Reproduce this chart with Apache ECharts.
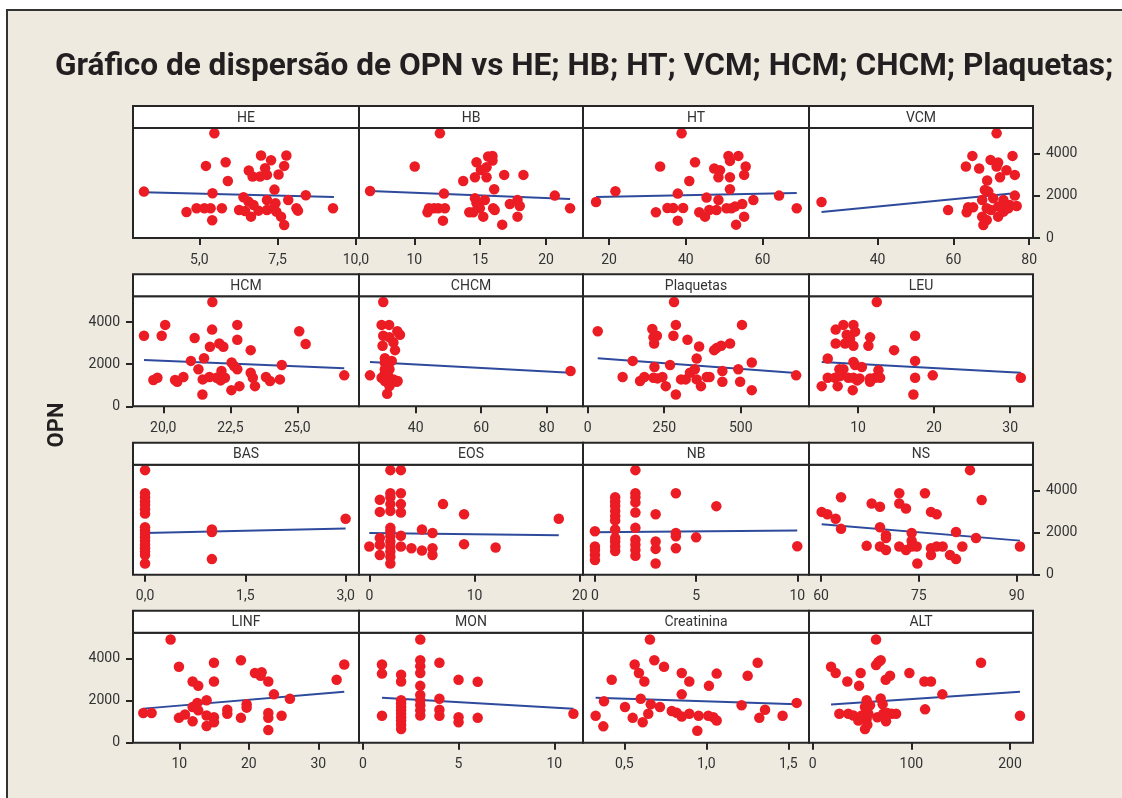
<!DOCTYPE html>
<html><head><meta charset="utf-8">
<script src="https://cdn.jsdelivr.net/npm/echarts@6/dist/echarts.min.js"></script>
<style>html,body{margin:0;padding:0;background:#fff;overflow:hidden}#c{width:1122px;height:798px}</style>
</head><body><div id="c"></div><script>
// ---------- DATA (x, OPN) per panel ----------
const HE = [[5.48,4983],[3.23,2206],[5.42,2127],[5.21,3428],[5.84,3603],[5.91,2714],[6.97,3920],[7.29,3698],[7.78,3920],[7.71,3428],[6.58,3206],[6.70,2920],[6.94,2920],[7.10,3317],[7.16,3000],[7.53,3015],[7.40,2301],[8.40,2031],[7.84,1809],[6.41,1936],[6.57,1730],[6.73,1571],[7.16,1809],[7.43,1650],[4.59,1238],[4.91,1412],[5.16,1412],[5.36,1412],[5.72,1412],[5.41,841],[6.27,1333],[6.46,1286],[6.65,1016],[6.89,1301],[7.16,1333],[7.37,1412],[7.46,1254],[7.61,1016],[7.71,619],[8.10,1412],[8.15,1301],[9.27,1412]];
const HB = [[6.64,2238],[11.94,4983],[10.03,3396],[14.72,3603],[15.6,3872],[15.93,3904],[15.93,3682],[15.48,3364],[15.05,3237],[13.71,2714],[14.6,2888],[15.48,2888],[16.82,3000],[18.28,3000],[16.06,2317],[12.25,2111],[20.66,2016],[21.82,1412],[11.0,1222],[11.11,1412],[11.5,1412],[11.82,1412],[12.32,1412],[12.17,825],[14.6,1889],[14.72,1650],[15.35,1809],[14.97,1412],[14.17,1222],[14.47,1222],[15.23,1016],[15.98,1412],[16.1,1333],[17.25,1619],[17.83,1809],[18.0,1524],[17.83,1016],[16.67,635]];
const HT = [[16.6,1714],[21.65,2222],[33.3,3396],[38.9,4983],[42.4,3603],[40.9,2714],[37.9,2111],[32.2,1222],[35.2,1428],[36.7,1428],[39.3,1428],[37.9,825],[47.4,3301],[48.9,3222],[48.5,2888],[51.1,3904],[51.5,3666],[53.7,3904],[51.5,2888],[51.5,2317],[55.6,3396],[55.2,3000],[45.4,1920],[48.5,1809],[43.5,1222],[45.0,1016],[46.1,1333],[48.0,1333],[50.6,1412],[51.9,1412],[52.8,1492],[54.7,1619],[57.6,1809],[55.2,1016],[53.1,635],[64.3,2016],[68.9,1412]];
const VCM = [[25.2,1714],[58.6,1333],[63.5,1222],[63.9,1460],[65.2,1460],[63.3,3396],[65.0,3904],[66.8,3301],[69.8,3714],[71.8,3587],[71.4,3396],[72.3,2888],[74.0,3222],[75.6,3904],[76.2,3000],[71.4,4983],[68.9,2730],[68.3,2285],[69.2,2206],[76.2,2016],[67.6,1809],[70.5,1889],[73.2,1809],[68.8,1412],[69.9,1333],[71.8,1492],[74.0,1412],[74.9,1571],[76.7,1524],[67.6,1016],[68.8,857],[67.9,619],[71.8,1016],[73.2,1254],[74.5,1412]];
const HCM = [[19.28,3358],[19.63,1247],[19.78,1359],[19.94,3358],[20.07,3870],[20.44,1247],[20.52,1167],[20.75,1391],[21.03,2159],[21.17,3246],[21.31,1759],[21.46,560],[21.47,1279],[21.52,2287],[21.72,1391],[21.74,2830],[21.82,3646],[21.83,4957],[21.99,1359],[22.09,2990],[22.14,1231],[22.17,1679],[22.24,2830],[22.30,1359],[22.55,2079],[22.54,768],[22.64,1919],[22.76,1759],[22.76,3870],[22.76,3166],[22.84,959],[23.26,2670],[23.26,1599],[23.34,1359],[23.42,959],[23.83,1391],[23.98,1199],[24.35,1279],[24.42,1967],[25.07,3566],[25.31,2958],[26.75,1471]];
const CHCM = [[26.05,1471],[30.1,4957],[29.6,3870],[31.9,3870],[30.1,3358],[32.0,3278],[33.2,3038],[29.9,2878],[33.7,2670],[30.6,2287],[30.6,2079],[32.7,2159],[30.6,1759],[32.0,1759],[29.6,1359],[30.6,1199],[31.6,1439],[33.2,1279],[34.2,1167],[32.0,959],[31.3,592],[34.5,1199],[35.2,3406],[34.4,3566],[30.6,1599],[87.3,1679]];
const PLAQ = [[32.7,3566],[282,4957],[288,3870],[280,3358],[211,3678],[215,3278],[226,3358],[217,2990],[326,3166],[364,2846],[413,2670],[421,2766],[436,2878],[465,2990],[504,3870],[147,2159],[218,1871],[269,1967],[356,2271],[114,1391],[171,1199],[185,1391],[215,1359],[228,1327],[244,1391],[255,959],[288,560],[305,1279],[320,1279],[334,1599],[350,1759],[356,1279],[370,959],[389,1391],[398,1391],[440,1679],[440,1167],[492,1759],[498,1167],[536,2079],[536,768],[681,1471]];
const LEU = [[12.46,4957],[7.06,3646],[8.07,3870],[9.39,3870],[9.61,3550],[8.51,3406],[8.95,3198],[7.06,2990],[8.29,2990],[9.39,2878],[11.58,3278],[11.36,2878],[14.74,2670],[17.5,3358],[6.01,2271],[9.39,2111],[9.61,1967],[10.5,1871],[17.5,2159],[7.54,1759],[8.07,1759],[12.68,1711],[6.01,1359],[6.97,1359],[7.63,1439],[8.73,1359],[9.39,1359],[10.2,1327],[11.58,1327],[12.24,1359],[12.9,1359],[7.32,959],[5.22,959],[9.3,768],[9.9,1231],[11.58,1167],[17.5,1359],[19.82,1471],[17.28,560],[31.4,1359]];
const BAS = [[0,4971],[0,3874],[0,3680],[0,3486],[0,3325],[0,3115],[0,2905],[0,2260],[0,2098],[0,1937],[0,1775],[0,1614],[0,1420],[0,1259],[0,1098],[0,936],[0,533],[1,2147],[1,2034],[1,742],[3,2663]];
const EOS = [[0,1340],[1,3567],[1,2986],[1,1743],[1,1420],[1,936],[2,4971],[2,3874],[2,3680],[2,3357],[2,3034],[2,2227],[2,2066],[2,1824],[2,1582],[2,1340],[2,1098],[2,856],[2,533],[3,4971],[3,3874],[3,3357],[3,2954],[3,1856],[3,1340],[4,1259],[5,2147],[5,1146],[6,1985],[6,1259],[6,936],[7,3357],[9,2873],[9,1453],[12,1291],[18,2663]];
const NB = [[0,2066],[0,1340],[0,1178],[0,936],[0,694],[1,3680],[1,3486],[1,3277],[1,3034],[1,2792],[1,2582],[1,2147],[1,1743],[1,1582],[1,1340],[1,1130],[2,4971],[2,3874],[2,3680],[2,3438],[2,2954],[2,2227],[2,1662],[2,1420],[2,1178],[2,904],[3,2873],[3,1582],[3,1227],[3,533],[4,3874],[4,1985],[4,1824],[4,1259],[5,1775],[6,3260],[10,1356]];
const NS = [[60.1,2986],[60.97,2873],[62.25,2663],[63.07,2179],[63.07,3680],[67.0,1372],[67.77,3389],[69.04,3228],[69.04,2260],[69.04,1340],[69.96,1872],[69.96,1743],[69.96,1178],[72.0,3874],[72.0,3389],[73.03,3147],[72.0,1340],[73.03,1178],[73.9,1985],[73.9,1614],[73.9,1340],[74.67,1340],[74.77,533],[75.94,3874],[76.86,2986],[77.73,2873],[76.86,1259],[76.86,936],[77.73,1340],[78.65,1340],[79.78,936],[80.7,742],[80.7,2034],[81.67,1340],[82.84,4971],[83.76,1743],[84.63,3551],[90.5,1340]];
const LINF = [[8.75,4903],[4.82,1408],[6.02,1408],[9.95,3608],[9.95,1181],[10.82,1343],[11.92,2912],[12.73,2702],[11.92,1699],[12.59,1893],[12.73,1537],[11.92,1019],[13.93,2022],[13.93,1294],[13.93,793],[14.99,3802],[14.99,2912],[14.99,1213],[14.99,971],[16.91,1569],[16.91,1375],[18.87,3916],[18.87,1181],[19.69,1828],[19.69,1667],[20.89,3317],[21.85,3349],[21.7,3187],[22.81,2912],[22.81,1408],[22.81,1181],[22.81,599],[23.62,2298],[24.72,1278],[25.92,2087],[32.64,2993],[33.74,3721]];
const MON = [[1,3721],[1,3285],[1,1278],[2,3236],[2,2912],[2,2022],[2,1861],[2,1699],[2,1537],[2,1375],[2,1213],[2,1052],[2,858],[2,647],[3,4903],[3,3916],[3,3640],[3,3317],[3,2702],[3,2265],[3,2022],[3,1780],[3,1537],[3,1294],[4,3802],[4,2087],[4,1569],[4,1278],[5,2993],[5,1213],[5,971],[6,2896],[6,1181],[11,1375]];
const CREAT = [[0.325,1278],[0.372,777],[0.376,1974],[0.423,2993],[0.504,1699],[0.551,1181],[0.563,3721],[0.589,3317],[0.6,2087],[0.612,971],[0.622,2912],[0.646,1375],[0.656,4903],[0.661,1828],[0.683,3916],[0.717,1699],[0.742,3608],[0.789,1505],[0.819,1424],[0.85,3317],[0.85,2298],[0.85,1246],[0.896,2912],[0.896,1375],[0.945,566],[0.953,1278],[1.016,2702],[1.012,1278],[1.043,1213],[1.063,3285],[1.063,1052],[1.215,1780],[1.252,3187],[1.313,3802],[1.323,1181],[1.358,1569],[1.465,1278],[1.551,1893]];
const ALT = [[18.6,3608],[23.3,3317],[27.0,1375],[35.1,2912],[36.1,1375],[41.2,1294],[47.0,2702],[48.6,3317],[46.3,1052],[49.7,1294],[53.0,1699],[53.0,647],[54.7,2022],[54.7,1133],[56.4,1375],[58.1,1780],[55.4,858],[64.2,4903],[64.2,3689],[66.6,3835],[68.9,3916],[65.5,1213],[68.9,2103],[70.9,1828],[71.6,1375],[74.3,1019],[75.7,1408],[74.0,2993],[78.4,3187],[80.1,1375],[84.5,1375],[98.0,3317],[113.2,2912],[119.9,2912],[113.9,1586],[131.4,2298],[170.6,3802],[210.1,1278]];

// fitted line end points
const HE_FIT = [[3.23,2175],[9.3,1952]];
const HB_FIT = [[6.64,2235],[21.82,1857]];
const HT_FIT = [[16.6,1952],[68.9,2143]];
const VCM_FIT = [[25.2,1238],[75.4,2111]];
const HCM_FIT = [[19.28,2207],[26.75,1807]];
const CHCM_FIT = [[26.05,2111],[87.3,1599]];
const PLAQ_FIT = [[32.7,2287],[681,1583]];
const LEU_FIT = [[5.22,2111],[31.4,1599]];
const BAS_FIT = [[0,1985],[3,2195]];
const EOS_FIT = [[0,1985],[18,1872]];
const NB_FIT = [[0,2017],[10,2098]];
const NS_FIT = [[60.1,2395],[90.5,1620]];
const LINF_FIT = [[4.82,1620],[33.74,2427]];
const MON_FIT = [[1,2136],[11,1618]];
const CREAT_FIT = [[0.325,2136],[1.551,1828]];
const ALT_FIT = [[18.6,1812],[210.1,2427]];

const panelNames = ['HE','HB','HT','VCM','HCM','CHCM','Plaquetas','LEU','BAS','EOS','NB','NS','LINF','MON','Creatinina','ALT'];
const panelData = [HE,HB,HT,VCM,HCM,CHCM,PLAQ,LEU,BAS,EOS,NB,NS,LINF,MON,CREAT,ALT];
const panelFits = [HE_FIT,HB_FIT,HT_FIT,VCM_FIT,HCM_FIT,CHCM_FIT,PLAQ_FIT,LEU_FIT,BAS_FIT,EOS_FIT,NB_FIT,NS_FIT,LINF_FIT,MON_FIT,CREAT_FIT,ALT_FIT];
const xRanges = [[2.88,10.1],[5.8,22.8],[13.2,72.1],[21.9,81],[18.87,27.3],[22.7,91.1],[-15.4,723],[3.55,33.0],[-0.18,3.2],[-0.98,20.3],[-0.59,10.58],[58.16,92.5],[3.34,35.86],[-0.2,11.5],[0.248,1.626],[-3.75,223.3]];
const xTicks = [[5,7.5,10],[10,15,20],[20,40,60],[40,60,80],[20,22.5,25],[40,60,80],[0,250,500],[10,20,30],[0,1.5,3],[0,10,20],[0,5,10],[60,75,90],[10,20,30],[0,5,10],[0.5,1,1.5],[0,100,200]];
const xDecimals = [1,0,0,0,1,0,0,0,1,0,0,0,0,0,1,0];
const yRange = [0, 5230];
const yTicks = [0, 2000, 4000];
const titleText = 'Gráfico de dispersão de OPN vs HE; HB; HT; VCM; HCM; CHCM; Plaquetas;';
const yName = 'OPN';

// ---------- LAYOUT ----------
const colX = [133, 359, 583, 809, 1033];
const rowTop = [106, 274.3, 442.7, 610.7];
const HEAD_H = 22, PLOT_H = 110;
const FONT = 'Roboto';
const BORDER = '#262626';

const grids = [], xAxes = [], yAxes = [], series = [];
const graphics = [
  {type:'rect', z:-10, shape:{x:7, y:10, width:1200, height:900}, style:{fill:'#EEEAE0', stroke:'#333', lineWidth:2}},
  {type:'text', x:55, y:67, style:{text:titleText, font:'bold 31.6px ' + FONT, fill:'#231f20', verticalAlign:'middle'}},
  {type:'text', x:57, y:425, rotation:Math.PI/2, style:{text:yName, font:'bold 22px ' + FONT, fill:'#231f20', align:'center', verticalAlign:'middle'}}
];

for (let i = 0; i < 16; i++) {
  const r = Math.floor(i / 4), c = i % 4;
  const left = colX[c], w = colX[c+1] - colX[c];
  grids.push({left:left, top:rowTop[r] + HEAD_H, width:w, height:PLOT_H, show:true, backgroundColor:'#fff', borderColor:BORDER, borderWidth:2, containLabel:false});
  const dec = xDecimals[i];
  xAxes.push({
    type:'value', gridIndex:i, min:xRanges[i][0], max:xRanges[i][1],
    axisLine:{show:false}, splitLine:{show:false},
    axisTick:{show:true, length:7, customValues:xTicks[i], lineStyle:{color:BORDER, width:2}},
    axisLabel:{customValues:xTicks[i], margin:15, color:'#333', fontSize:14, fontFamily:FONT,
      formatter: v => (dec ? v.toFixed(dec) : String(Math.round(v))).replace('.', ',')}
  });
  const showY = (r % 2 === 0 && c === 3) || (r % 2 === 1 && c === 0);
  yAxes.push({
    type:'value', gridIndex:i, min:yRange[0], max:yRange[1], position: c === 3 ? 'right' : 'left',
    axisLine:{show:false}, splitLine:{show:false},
    axisTick:{show:showY, length:7, customValues:yTicks, lineStyle:{color:BORDER, width:2}},
    axisLabel:{show:showY, customValues:yTicks, margin:13, color:'#333', fontSize:14, fontFamily:FONT,
      formatter: v => String(Math.round(v))}
  });
  series.push({type:'line', xAxisIndex:i, yAxisIndex:i, data:panelFits[i], symbol:'none', z:2,
    lineStyle:{color:'#2E4A9C', width:2}, silent:true});
  series.push({type:'scatter', xAxisIndex:i, yAxisIndex:i, data:panelData[i], symbol:'circle', symbolSize:10.5, z:3,
    itemStyle:{color:'#EC1C24', opacity:1}, silent:true});
  graphics.push({type:'rect', z:10, shape:{x:left, y:rowTop[r], width:w, height:HEAD_H}, style:{fill:'#fff', stroke:BORDER, lineWidth:2}});
  graphics.push({type:'text', z:11, x:left + w/2, y:rowTop[r] + HEAD_H/2 + 1, style:{text:panelNames[i], font:'14px ' + FONT, fill:'#333', align:'center', verticalAlign:'middle'}});
}

const chart = echarts.init(document.getElementById('c'), null, {renderer:'canvas'});
chart.setOption({animation:false, backgroundColor:'transparent', grid:grids, xAxis:xAxes, yAxis:yAxes, series:series, graphic:graphics});
</script></body></html>
